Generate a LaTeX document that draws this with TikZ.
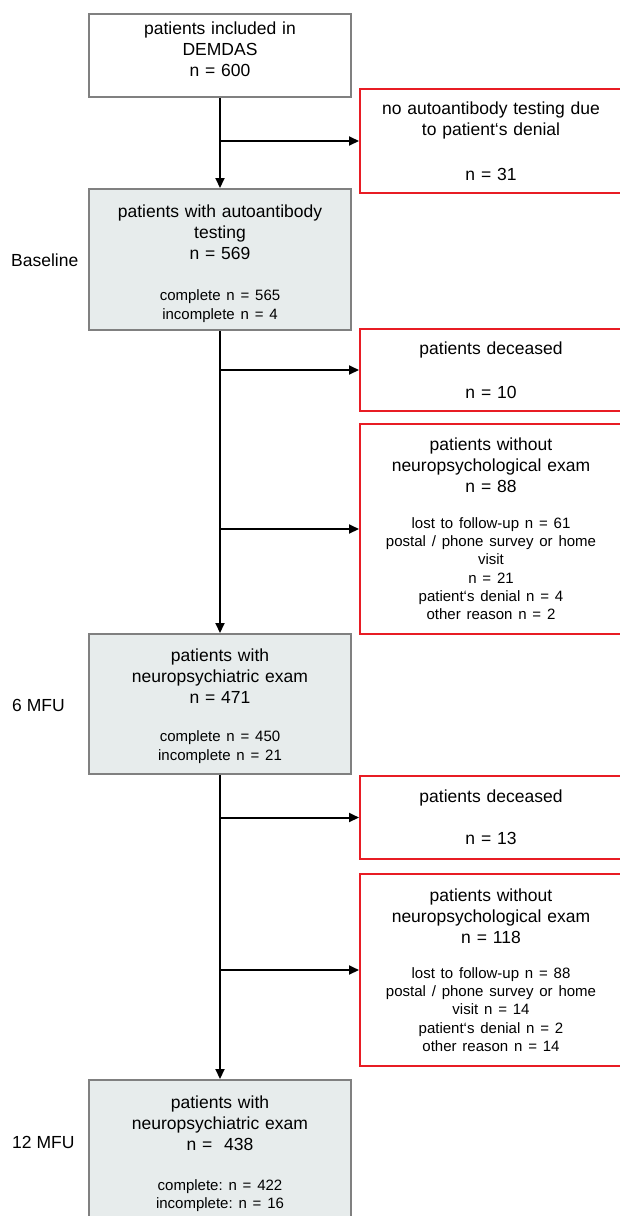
\documentclass[tikz,border=0pt]{standalone}
\usepackage{fontspec}
\setmainfont{Liberation Sans}
\usetikzlibrary{arrows.meta,positioning}
\frenchspacing

\definecolor{boxgray}{RGB}{128,128,128}
\definecolor{boxfill}{RGB}{231,236,236}
\definecolor{exred}{RGB}{232,28,36}

\newcommand{\bigtxt}{\fontsize{17.5}{21}\selectfont}
\newcommand{\smtxt}{\fontsize{15}{18.3}\selectfont}
% small lines below the counts
\newcommand{\smpart}[2]{\par\vspace{#1}{\smtxt #2\par}}
% extra room above / below the text, to move it inside its box
\newcommand{\padtop}[1]{\hrule height 0pt\vspace{#1}}
\newcommand{\padbot}[1]{\par\vspace{#1}\hrule height 0pt}

\begin{document}
\begin{tikzpicture}[
      x=1pt, y=-1pt,
      every node/.style={font=\bigtxt},
      block/.style={rectangle, draw=boxgray, fill=boxfill, line width=2pt, text width=240pt, align=center, inner xsep=11pt, inner ysep=0pt, anchor=north west},
      excl/.style={block, draw=exred, fill=white},
      lbl/.style={anchor=west, inner sep=0pt},
      line/.style={draw, line width=2pt, -{Triangle[length=10pt, width=9pt]}}
    ]
    \useasboundingbox (0,0) rectangle (619,1216);
    % Nodes
    \node [block, fill=white, minimum height=83pt] (incl) at (88,13) {patients included in\\DEMDAS\\n = 600\padbot{12pt}};
    \node [block, minimum height=141pt] (base) at (88,188) {\padtop{8pt}patients with autoantibody\\testing\\n = 569\smpart{23pt}{complete n = 565\\incomplete n = 4}};
    \node [block, minimum height=140pt] (mfu6) at (88,633) {\padtop{4pt}patients with\\neuropsychiatric exam\\n = 471\smpart{20pt}{complete n = 450\\incomplete n = 21}};
    \node [block, minimum height=140pt] (mfu12) at (88,1079) {\padtop{8pt}patients with\\neuropsychiatric exam\\n =\ \ 438\smpart{21pt}{complete: n = 422\\incomplete: n = 16}};
    \node [excl, minimum height=104pt] (nodenial) at (359,88) {no autoantibody testing due\\to patient‘s denial\\[24pt]n = 31};
    \node [excl, minimum height=82pt] (dec1) at (359,328) {patients deceased\\[23pt]n = 10};
    \node [excl, minimum height=210pt] (noexam1) at (359,423) {patients without\\neuropsychological exam\\n = 88\smpart{17pt}{lost to follow-up n = 61\\postal / phone survey or home\\visit\\n = 21\\patient‘s denial n = 4\\other reason n = 2}};
    \node [excl, minimum height=83pt] (dec2) at (359,775) {patients deceased\\[21pt]n = 13};
    \node [excl, minimum height=192pt] (noexam2) at (359,873) {patients without\\neuropsychological exam\\n = 118\smpart{17pt}{lost to follow-up n = 88\\postal / phone survey or home\\visit n = 14\\patient‘s denial n = 2\\other reason n = 14}};
    % Time points
    \node [lbl] (tbase) at (11,260) {Baseline};
    \node [lbl] (t6) at (12,705) {6 MFU};
    \node [lbl] (t12) at (12,1142) {12 MFU};
    % Lines
    \path [line] (incl) -- (base);
    \path [line] (base) -- (mfu6);
    \path [line] (mfu6) -- (mfu12);
    \path [line] (incl.south |- nodenial) -- (nodenial);
    \path [line] (base.south |- dec1) -- (dec1);
    \path [line] (base.south |- noexam1) -- (noexam1);
    \path [line] (mfu6.south |- dec2) -- (dec2);
    \path [line] (mfu6.south |- noexam2) -- (noexam2);
  \end{tikzpicture}
\end{document}
